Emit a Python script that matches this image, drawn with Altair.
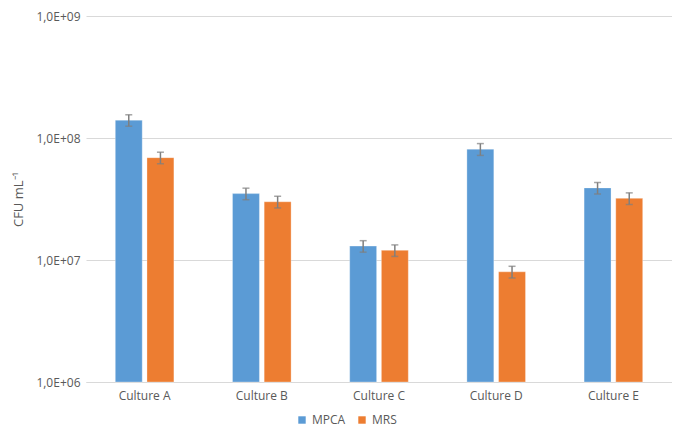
import altair as alt
import pandas as pd

cultures = ["Culture A", "Culture B", "Culture C", "Culture D", "Culture E"]
series = ["MPCA", "MRS"]
mpca = [1.4e8, 3.5e7, 1.3e7, 8.1e7, 3.9e7]
mrs = [6.9e7, 3.0e7, 1.2e7, 8.0e6, 3.2e7]
mpca_err = [1.5e7, 3.8e6, 1.4e6, 9.0e6, 4.2e6]
mrs_err = [7.5e6, 3.3e6, 1.3e6, 8.8e5, 3.5e6]
y_ticks = [1e6, 1e7, 1e8, 1e9]

rows = []
for c, v, e in zip(cultures, mpca, mpca_err):
    rows.append({"culture": c, "series": "MPCA", "value": v, "low": v - e, "high": v + e})
for c, v, e in zip(cultures, mrs, mrs_err):
    rows.append({"culture": c, "series": "MRS", "value": v, "low": v - e, "high": v + e})
df = pd.DataFrame(rows)

FONT = "Open Sans"
GREY = "#595959"

x_enc = alt.X("culture:N", sort=cultures, title=None,
              scale=alt.Scale(paddingInner=0.5, paddingOuter=0.25),
              axis=alt.Axis(labelAngle=0, ticks=False, domainColor="#D9D9D9",
                            labelPadding=8, grid=False))
xoff = alt.XOffset("series:N", sort=series, scale=alt.Scale(paddingInner=0.15, paddingOuter=0))
y_scale = alt.Scale(type="log", domain=[1e6, 1e9])

base = alt.Chart(df)

bars = base.mark_bar(stroke="white", strokeWidth=0.6, strokeOpacity=0.5).encode(
    x=x_enc,
    xOffset=xoff,
    y=alt.Y("value:Q", scale=y_scale, title="CFU mL⁻¹",
            axis=alt.Axis(values=y_ticks, ticks=False, domain=False,
                          labelExpr="'1,0E+0' + round(log(datum.value) / LN10)",
                          gridColor="#D9D9D9", labelPadding=6, titlePadding=10)),
    y2=alt.datum(1e6),
    color=alt.Color("series:N", sort=series,
                    scale=alt.Scale(domain=series, range=["#5B9BD5", "#ED7D31"]),
                    legend=alt.Legend(title=None, orient="none", direction="horizontal",
                                      legendX=210, legendY=398, symbolType="square",
                                      symbolSize=55, symbolStrokeWidth=0,
                                      columnPadding=10, labelFontSize=12,
                                      labelColor=GREY, labelFont=FONT)),
)

rule = base.mark_rule(color="#7F7F7F", strokeWidth=1.5).encode(
    x=alt.X("culture:N", sort=cultures),
    xOffset=alt.XOffset("series:N", sort=series),
    y=alt.Y("low:Q", scale=y_scale),
    y2="high:Q",
)
tick_low = base.mark_tick(color="#7F7F7F", size=7, thickness=1.5, orient="horizontal").encode(
    x=alt.X("culture:N", sort=cultures),
    xOffset=alt.XOffset("series:N", sort=series),
    y=alt.Y("low:Q", scale=y_scale),
)
tick_high = base.mark_tick(color="#7F7F7F", size=7, thickness=1.5, orient="horizontal").encode(
    x=alt.X("culture:N", sort=cultures),
    xOffset=alt.XOffset("series:N", sort=series),
    y=alt.Y("high:Q", scale=y_scale),
)

chart = alt.layer(bars, rule, tick_low, tick_high).properties(
    width=586, height=366,
    autosize=alt.AutoSizeParams(type="none"),
    padding={"left": 78, "top": 8, "right": 0, "bottom": 50},
).configure_view(stroke=None).configure_axis(
    labelFont=FONT, labelFontSize=12, labelColor=GREY,
    titleFont=FONT, titleFontSize=13, titleColor=GREY, titleFontWeight="normal",
)

chart.save("out.html", embed_options={"renderer": "svg", "actions": False})
